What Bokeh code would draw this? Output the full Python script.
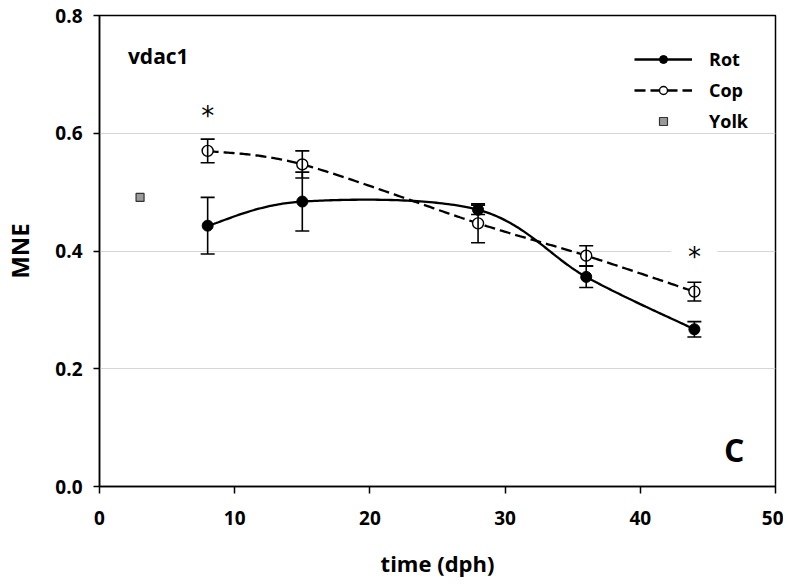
import numpy as np
from bokeh.plotting import figure
from bokeh.models import (Range1d, FixedTicker, NumeralTickFormatter, Whisker, TeeHead,
                          ColumnDataSource, Legend, LegendItem, Label)
from bokeh.embed import file_html
from bokeh.resources import INLINE
from bokeh.core.properties import value

# ---- data ----
days = [8, 15, 28, 36, 44]
rot_mean = [0.443, 0.484, 0.470, 0.356, 0.267]
rot_err = [0.048, 0.050, 0.008, 0.018, 0.013]
cop_mean = [0.570, 0.547, 0.447, 0.392, 0.331]
cop_err = [0.020, 0.023, 0.033, 0.017, 0.016]
yolk_day = [3]
yolk_mean = [0.491]
star_day = [8, 44]
star_y = [0.640, 0.400]
x_ticks = [0, 10, 20, 30, 40, 50]
y_ticks = [0.0, 0.2, 0.4, 0.6, 0.8]

FONT = "Open Sans"


def smooth_curve(xs, ys, n=60):
    """Smoothed line through the points (cubic Bezier segments, Catmull-Rom style)."""
    P = np.column_stack([np.asarray(xs, float), np.asarray(ys, float)])
    out = []
    t = np.linspace(0, 1, n)[:, None]
    for i in range(len(P) - 1):
        p_prev = P[i - 1] if i > 0 else P[i]
        p_next = P[i + 2] if i + 2 < len(P) else P[i + 1]
        c1 = P[i] + (P[i + 1] - p_prev) / 6
        c2 = P[i + 1] - (p_next - P[i]) / 6
        seg = ((1 - t) ** 3) * P[i] + 3 * ((1 - t) ** 2) * t * c1 + 3 * (1 - t) * t ** 2 * c2 + t ** 3 * P[i + 1]
        out.append(seg if i == 0 else seg[1:])
    arr = np.vstack(out)
    return arr[:, 0], arr[:, 1]


p = figure(width=783, height=580, output_backend="svg", toolbar_location=None,
           x_range=Range1d(0, 50), y_range=Range1d(0, 0.8),
           min_border_left=98, min_border_right=8, min_border_top=15, min_border_bottom=92)

p.outline_line_color = "black"
p.outline_line_width = 1.5
p.xgrid.visible = False
p.ygrid.grid_line_color = "#d6d6d6"
p.ygrid.grid_line_width = 1.2
p.ygrid.ticker = FixedTicker(ticks=[0.2, 0.4, 0.6])

for ax in (p.xaxis[0], p.yaxis[0]):
    ax.axis_line_color = "black"
    ax.axis_line_width = 1.5
    ax.major_tick_line_color = "black"
    ax.major_tick_line_width = 1.5
    ax.minor_tick_line_color = None
    ax.major_tick_in = 0
    ax.major_label_text_font = FONT
    ax.major_label_text_font_style = "bold"
    ax.major_label_text_font_size = "19px"
    ax.major_label_text_color = "black"
    ax.axis_label_text_font = FONT
    ax.axis_label_text_font_style = "bold"
    ax.axis_label_text_color = "black"

p.xaxis.ticker = FixedTicker(ticks=x_ticks)
p.yaxis.ticker = FixedTicker(ticks=y_ticks)
p.yaxis.formatter = NumeralTickFormatter(format="0.0")
p.xaxis.major_tick_out = 7
p.yaxis.major_tick_out = 6
p.xaxis.major_label_standoff = 17
p.yaxis.major_label_standoff = 11
p.xaxis.axis_label = "time (dph)"
p.yaxis.axis_label = "MNE"
p.xaxis.axis_label_text_font_size = "22px"
p.yaxis.axis_label_text_font_size = "24px"
p.xaxis.axis_label_standoff = 20
p.yaxis.axis_label_standoff = 16

# error bars
rot_src = ColumnDataSource(dict(x=days, y=rot_mean,
                                lo=[m - e for m, e in zip(rot_mean, rot_err)],
                                hi=[m + e for m, e in zip(rot_mean, rot_err)]))
cop_src = ColumnDataSource(dict(x=days, y=cop_mean,
                                lo=[m - e for m, e in zip(cop_mean, cop_err)],
                                hi=[m + e for m, e in zip(cop_mean, cop_err)]))
for src in (cop_src, rot_src):
    w = Whisker(source=src, base="x", lower="lo", upper="hi", line_color="black", line_width=1.6,
                upper_head=TeeHead(size=14, line_color="black", line_width=1.6),
                lower_head=TeeHead(size=14, line_color="black", line_width=1.6))
    w.level = "glyph"
    p.add_layout(w)

# curves
rx, ry = smooth_curve(days, rot_mean)
cx, cy = smooth_curve(days, cop_mean)
rot_line = p.line(rx, ry, line_color="black", line_width=2.3)
cop_line = p.line(cx, cy, line_color="black", line_width=2.3, line_dash="11 5")

rot_pts = p.scatter("x", "y", source=rot_src, marker="circle", size=11,
                    fill_color="black", line_color="black")
cop_pts = p.scatter("x", "y", source=cop_src, marker="circle", size=11,
                    fill_color="white", line_color="black", line_width=1.4)
yolk_pts = p.scatter(yolk_day, yolk_mean, marker="square", size=8,
                     fill_color="#9a9a9a", line_color="#333333", line_width=1.2)

# significance asterisks (white gap behind the one crossing a gridline)
p.rect(star_day[1:], star_y[1:], width=46, height=6, width_units="screen", height_units="screen",
       fill_color="white", line_color=None)
p.text(star_day, star_y, text=["*"] * len(star_day), text_font=value("DejaVu Sans"),
       text_font_size="26px", text_align="center", text_baseline="middle",
       y_offset=6, text_color="black")

# legend
legend = Legend(items=[
    LegendItem(label="Rot", renderers=[rot_line, rot_pts]),
    LegendItem(label="Cop", renderers=[cop_line, cop_pts]),
    LegendItem(label="Yolk", renderers=[yolk_pts]),
], location=(535, 353))
legend.glyph_width = 58
legend.glyph_height = 20
legend.spacing = 7
legend.padding = 0
legend.margin = 0
legend.label_standoff = 17
legend.label_text_font = FONT
legend.label_text_font_style = "bold"
legend.label_text_font_size = "18px"
legend.label_text_color = "black"
legend.border_line_color = None
legend.background_fill_alpha = 0
p.add_layout(legend)

# panel annotations
p.add_layout(Label(x=2.1, y=0.732, text="vdac1", text_font=FONT, text_font_style="bold",
                   text_font_size="21px", text_baseline="middle", text_color="black"))
p.add_layout(Label(x=46.95, y=0.063, text="C", text_font=FONT, text_font_style="bold",
                   text_font_size="32px", text_baseline="middle", text_align="center",
                   text_color="black"))

open("out.html", "w").write(file_html(p, INLINE))
